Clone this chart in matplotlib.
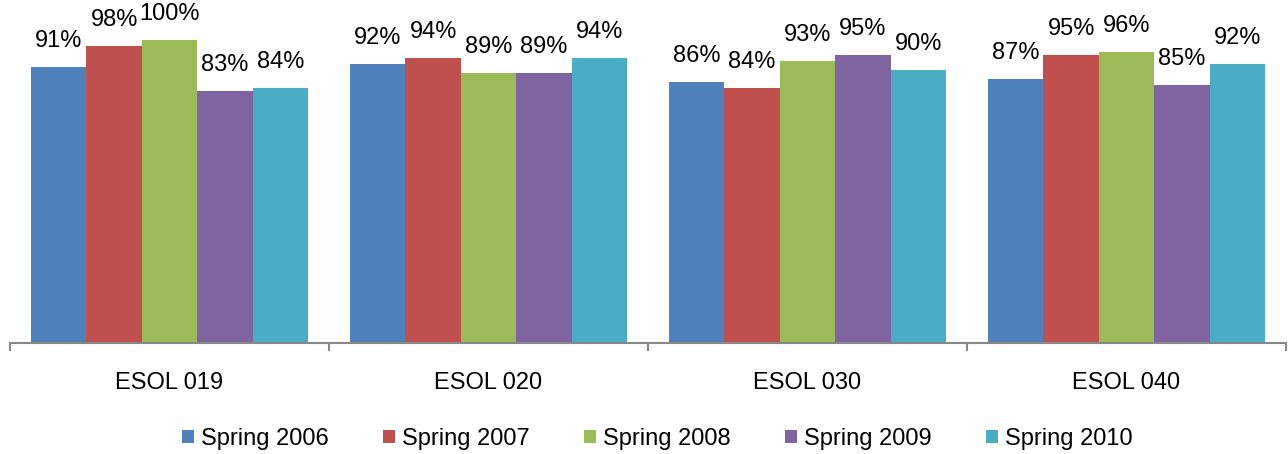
import matplotlib
matplotlib.use("Agg")
import matplotlib.pyplot as plt
import numpy as np
from matplotlib.ticker import FixedLocator, NullFormatter

plt.rcParams['font.family'] = ['Liberation Sans', 'DejaVu Sans']

categories = ["ESOL 019", "ESOL 020", "ESOL 030", "ESOL 040"]
series = ["Spring 2006", "Spring 2007", "Spring 2008", "Spring 2009", "Spring 2010"]
spring_2006 = [91, 92, 86, 87]
spring_2007 = [98, 94, 84, 95]
spring_2008 = [100, 89, 93, 96]
spring_2009 = [83, 89, 95, 85]
spring_2010 = [84, 94, 90, 92]
values = [spring_2006, spring_2007, spring_2008, spring_2009, spring_2010]
colors = ["#4F81BD", "#C0504D", "#9BBB59", "#8064A2", "#4BACC6"]

fig = plt.figure(figsize=(12.88, 4.54), dpi=100)
ax = fig.add_axes([10/1288, (454-342.5)/454, 1276/1288, 342.5/454])

x = np.arange(len(categories))
bw = 0.1737
n = len(series)
for i, (name, vals, c) in enumerate(zip(series, values, colors)):
    pos = x + (i - (n-1)/2) * bw
    bars = ax.bar(pos, vals, width=bw, color=c, label=name, linewidth=0)
    for b, v in zip(bars, vals):
        ax.annotate(f"{v}%", (b.get_x() + b.get_width()/2, b.get_height()),
                    xytext=(0, 11), textcoords="offset points",
                    ha="center", va="bottom", fontsize=17)

ax.set_xlim(-0.5, len(categories) - 0.5)
ax.set_ylim(0, 113.2)
ax.set_yticks([])
for s in ["top", "right", "left"]:
    ax.spines[s].set_visible(False)
ax.spines["bottom"].set_color("#878787")
ax.spines["bottom"].set_linewidth(1.5)

ax.xaxis.set_major_locator(FixedLocator(np.arange(-0.5, len(categories), 1.0)))
ax.xaxis.set_major_formatter(NullFormatter())
ax.xaxis.set_minor_locator(FixedLocator(x))
ax.set_xticklabels(categories, minor=True, fontsize=17)
ax.tick_params(axis="x", which="major", length=6, width=1.5, color="#878787")
ax.tick_params(axis="x", which="minor", length=0, pad=21)

fig.legend(loc="center", bbox_to_anchor=(657.5/1288, 1 - 439/454), ncol=5, frameon=False,
           fontsize=17, handlelength=0.51, handleheight=0.51, handletextpad=0.3,
           columnspacing=2.29, borderpad=0)

fig.savefig("out.png", dpi=100)
